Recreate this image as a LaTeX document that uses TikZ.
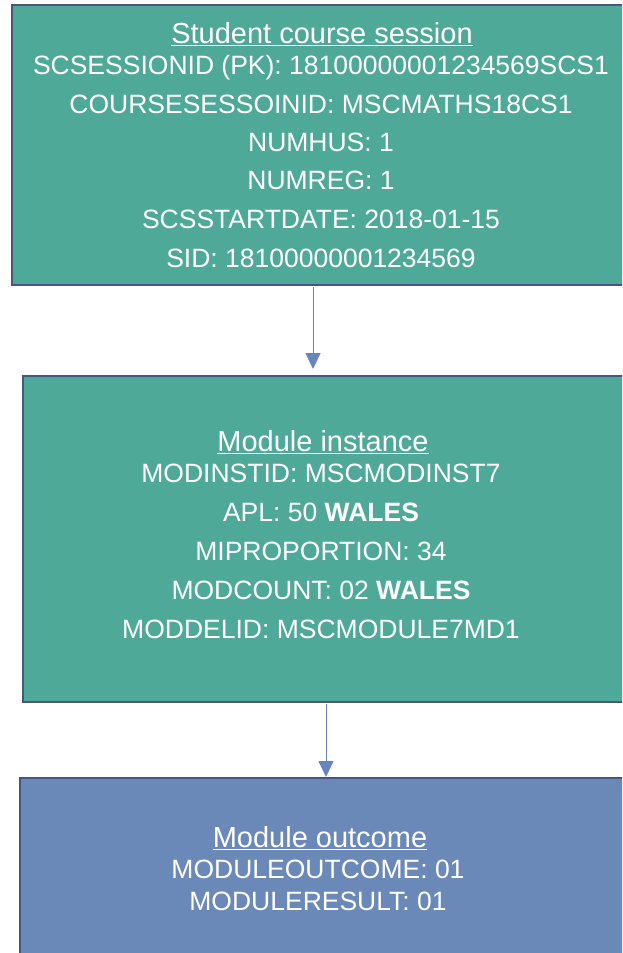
\documentclass[tikz,border=0pt]{standalone}
\usepackage{fontspec}
\setmainfont{Liberation Sans}
\usetikzlibrary{arrows.meta}
\definecolor{tealfill}{RGB}{78,169,153}
\definecolor{bluefill}{RGB}{106,136,184}
\definecolor{boxline}{RGB}{70,86,124}
\definecolor{arrowcol}{RGB}{104,132,192}
\tikzset{
  boxshape/.style={draw=boxline, line width=2pt, rectangle, inner sep=0pt, anchor=north west},
  titletext/.style={text=white, inner sep=0pt, anchor=base, font=\fontsize{29}{32}\selectfont},
  bodytext/.style={text=white, inner sep=0pt, anchor=base, font=\fontsize{26.5}{30}\selectfont},
  uline/.style={draw=white, line width=1.8pt},
  conn/.style={draw=arrowcol, line width=1pt, -{Triangle[width=15pt,length=16pt]}}
}
\begin{document}
\begin{tikzpicture}[x=1pt,y=-1pt]
\useasboundingbox (0,0) rectangle (622,953);
\clip (0,0) rectangle (622,953);
% boxes
\node[boxshape, fill=tealfill, minimum width=640pt, minimum height=280pt] (b1) at (11,4) {};
\node[boxshape, fill=tealfill, minimum width=640pt, minimum height=326pt] (b2) at (22,375) {};
\node[boxshape, fill=bluefill, minimum width=640pt, minimum height=220pt] (b3) at (19,777) {};
% box 1 text
\node[titletext] (t1) at (322,43) {Student course session};
\draw[uline] ([yshift=-2.5pt]t1.base west) -- ([yshift=-2.5pt]t1.base east);
\node[bodytext] (l11) at (321,74) {SCSESSIONID (PK): 18100000001234569SCS1};
\node[bodytext] (l12) at (321,113) {COURSESESSOINID: MSCMATHS18CS1};
\node[bodytext] (l13) at (321,151) {NUMHUS: 1};
\node[bodytext] (l14) at (321,189) {NUMREG: 1};
\node[bodytext] (l15) at (321,228) {SCSSTARTDATE: 2018-01-15};
\node[bodytext] (l16) at (321,267) {SID: 18100000001234569};
% box 2 text
\node[titletext] (t2) at (323,451) {Module instance};
\draw[uline] ([yshift=-2.5pt]t2.base west) -- ([yshift=-2.5pt]t2.base east);
\node[bodytext] (l21) at (321,482) {MODINSTID: MSCMODINST7};
\node[bodytext] (l22) at (321,521) {APL: 50 \textbf{WALES}};
\node[bodytext] (l23) at (321,560) {MIPROPORTION: 34};
\node[bodytext] (l24) at (321,599) {MODCOUNT: 02 \textbf{WALES}};
\node[bodytext] (l25) at (321,638) {MODDELID: MSCMODULE7MD1};
% box 3 text
\node[titletext] (t3) at (320,847) {Module outcome};
\draw[uline] ([yshift=-2.5pt]t3.base west) -- ([yshift=-2.5pt]t3.base east);
\node[bodytext] (l31) at (318,878) {MODULEOUTCOME: 01};
\node[bodytext] (l32) at (318,910) {MODULERESULT: 01};
% connectors
\coordinate (a1) at (313,0);
\coordinate (a2) at (326,0);
\draw[conn, shorten <=1pt, shorten >=6pt] (b1.south -| a1) -- (b2.north -| a1);
\draw[conn, shorten <=1pt] (b2.south -| a2) -- (b3.north -| a2);
\end{tikzpicture}
\end{document}
